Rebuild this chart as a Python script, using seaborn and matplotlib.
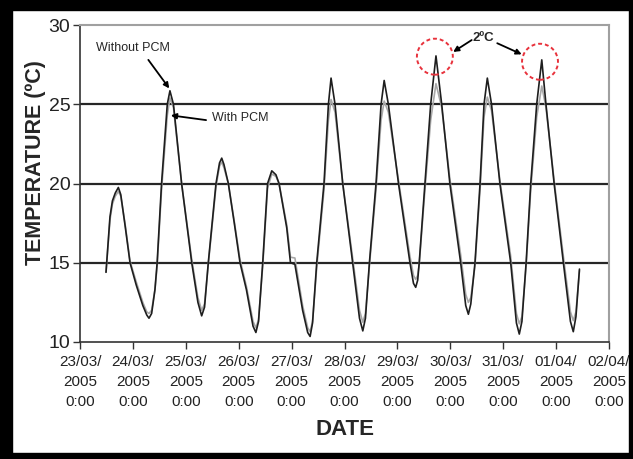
import matplotlib
matplotlib.use("Agg")
import matplotlib.pyplot as plt
from matplotlib.patches import Ellipse, Rectangle
import seaborn as sns
import pandas as pd

# ---- data (hours since 23/03/2005 0:00) ----
hours = [11.8, 13.6, 14.7, 16.0, 17.4, 18.5, 20.5, 22.7, 25.5, 28.5, 30.3, 31.3, 32.5, 34.0, 35.0,
         37.0, 39.6, 40.8, 42.4, 46.1, 50.7, 53.5, 55.2, 56.5, 58.2, 61.7, 63.3, 64.3, 65.3, 67.3,
         70.0, 72.6, 75.5, 78.5, 79.8, 81.0, 82.9, 85.1, 87.0, 88.9, 90.3, 93.8, 95.5, 97.5, 101.0,
         103.3, 104.4, 105.5, 107.4, 110.7, 112.7, 113.9, 115.7, 119.2, 123.7, 126.8, 128.3, 129.5,
         131.3, 134.3, 136.6, 138.0, 139.9, 144.5, 149.7, 151.3, 152.3, 153.2, 153.9, 156.5, 159.1,
         161.5, 164.1, 167.8, 172.7, 175.0, 176.2, 177.3, 179.2, 181.5, 183.3, 184.8, 186.7, 190.5,
         195.4, 198.0, 199.3, 200.5, 202.4, 204.5, 207.2, 209.5, 211.4, 215.1, 219.3, 222.5, 223.8,
         225.0, 226.6]

without_pcm = [14.4, 17.9, 18.9, 19.4, 19.75, 19.3, 17.3, 15.0, 13.6, 12.3, 11.7, 11.5, 11.8, 13.3, 15.0,
               20.0, 25.0, 25.85, 25.0, 20.0, 15.0, 12.5, 11.65, 12.2, 15.0, 20.0, 21.3, 21.6, 21.2, 20.0,
               17.5, 15.0, 13.3, 11.0, 10.6, 11.3, 15.0, 20.0, 20.8, 20.55, 20.0, 17.2, 15.0, 14.9, 12.0,
               10.6, 10.35, 11.2, 15.0, 20.0, 25.0, 26.65, 25.0, 20.0, 15.0, 11.5, 10.7, 11.5,
               15.0, 20.0, 25.0, 26.5, 25.0, 20.0, 15.0, 13.7, 13.45, 13.9, 15.0, 20.0, 25.0,
               28.05, 25.0, 20.0, 15.0, 12.3, 11.75, 12.4, 15.0, 20.0, 25.0, 26.65, 25.0, 20.0,
               15.0, 11.2, 10.5, 11.3, 15.0, 20.0, 25.0, 27.8, 25.0, 20.0, 15.0, 11.3, 10.65,
               11.6, 14.6]

with_pcm = [14.4, 17.7, 18.7, 19.2, 19.5, 19.2, 17.4, 15.1, 13.8, 12.5, 11.9, 11.8, 12.0, 13.3, 14.8,
            19.6, 24.3, 25.4, 24.8, 20.0, 15.2, 12.8, 12.0, 12.4, 14.9, 19.8, 21.1, 21.35, 21.0, 20.0,
            17.6, 15.2, 13.5, 11.3, 10.9, 11.4, 14.8, 19.7, 20.6, 20.45, 20.0, 17.4, 15.35, 15.3, 12.3,
            10.9, 10.65, 11.3, 14.7, 19.6, 24.0, 25.3, 24.5, 20.0, 15.3, 12.0, 11.25, 11.8,
            14.8, 19.6, 24.0, 25.2, 24.5, 20.2, 15.4, 14.2, 13.95, 14.2, 14.9, 19.6, 24.0,
            26.3, 24.8, 20.3, 15.5, 13.0, 12.5, 12.8, 14.8, 19.6, 24.2, 25.45, 24.6, 20.2,
            15.4, 11.8, 11.15, 11.6, 14.8, 19.6, 24.2, 26.15, 24.8, 20.2, 15.4, 11.9, 11.35,
            11.9, 14.5]

tick_hours = [0, 24, 48, 72, 96, 120, 144, 168, 192, 216, 240]
tick_labels = ["23/03/\n2005\n0:00", "24/03/\n2005\n0:00", "25/03/\n2005\n0:00", "26/03/\n2005\n0:00",
               "27/03/\n2005\n0:00", "28/03/\n2005\n0:00", "29/03/\n2005\n0:00", "30/03/\n2005\n0:00",
               "31/03/\n2005\n0:00", "01/04/\n2005\n0:00", "02/04/\n2005\n0:00"]
y_ticks = [10, 15, 20, 25, 30]

df = pd.DataFrame({
    "hour": hours * 2,
    "temp": with_pcm + without_pcm,
    "series": ["With PCM"] * len(hours) + ["Without PCM"] * len(hours),
})

sns.set_style("white")
plt.rcParams["font.family"] = ["Liberation Sans", "DejaVu Sans"]

W, H = 633, 459
fig = plt.figure(figsize=(W / 100, H / 100), dpi=100)
ax = fig.add_axes([80 / W, 1 - 342 / H, 529 / W, 317 / H])

for y in [15, 20, 25]:
    ax.axhline(y, color="#262626", lw=1.6, zorder=1)

sns.lineplot(data=df, x="hour", y="temp", hue="series",
             palette={"With PCM": "#a8a8a8", "Without PCM": "#1e1e1e"},
             hue_order=["With PCM", "Without PCM"], estimator=None, sort=False,
             lw=1.2, legend=False, ax=ax, zorder=3)

ax.set_xlim(0, 240)
ax.set_ylim(10, 30)
ax.set_xticks(tick_hours)
ax.set_xticklabels(tick_labels, fontsize=11, linespacing=1.55, color="#222222")
ax.set_yticks(y_ticks)
ax.set_yticklabels([str(v) for v in y_ticks], fontsize=14, color="#222222")
ax.tick_params(axis="x", direction="out", length=5, width=1, color="#333333", pad=4, bottom=True)
ax.tick_params(axis="y", direction="out", length=5, width=1, color="#333333", pad=2, left=True)

for s in ["top", "right"]:
    ax.spines[s].set_color("#a0a0a0")
    ax.spines[s].set_linewidth(1.5)
for s in ["left", "bottom"]:
    ax.spines[s].set_color("#333333")
    ax.spines[s].set_linewidth(1.2)

ax.set_xlabel("DATE", fontsize=16, fontweight="bold")
ax.xaxis.set_label_coords(0.501, -0.243)
ax.set_ylabel("TEMPERATURE (ºC)", fontsize=15.5, fontweight="bold")
ax.yaxis.set_label_coords(-0.064, 0.565)

arrow = dict(arrowstyle="-|>", color="black", lw=1.3, mutation_scale=8, shrinkA=0, shrinkB=0)
ax.text(24, 28.55, "Without PCM", fontsize=9, ha="center", va="center")
ax.annotate("", xy=(40.5, 26.0), xytext=(31, 27.8), arrowprops=arrow)
ax.annotate("", xy=(41.2, 24.3), xytext=(57.2, 24.0), arrowprops=arrow)
ax.text(60, 24.13, "With PCM", fontsize=9, ha="left", va="center")
ax.text(182.8, 29.2, "2ºC", fontsize=9.5, fontweight="bold", ha="center", va="center")
ax.annotate("", xy=(169.3, 28.3), xytext=(177.7, 29.05), arrowprops=arrow)
ax.annotate("", xy=(200.4, 28.15), xytext=(189.3, 28.85), arrowprops=arrow)

for cx, cy in [(161.0, 28.0), (208.7, 27.68)]:
    ax.add_patch(Ellipse((cx, cy), width=16.3, height=2.27, fill=False, edgecolor="#e8323c",
                         lw=1.4, ls=(0, (2, 1.5)), zorder=5))

# black outer frame
for (x0, y0, w, h) in [(0, 0, 12, H), (629, 0, W - 629, H), (0, 0, W, 10), (0, 453, W, H - 453)]:
    fig.patches.append(Rectangle((x0 / W, 1 - (y0 + h) / H), w / W, h / H, transform=fig.transFigure,
                                 color="black", zorder=10))

fig.savefig("out.png", dpi=100)
